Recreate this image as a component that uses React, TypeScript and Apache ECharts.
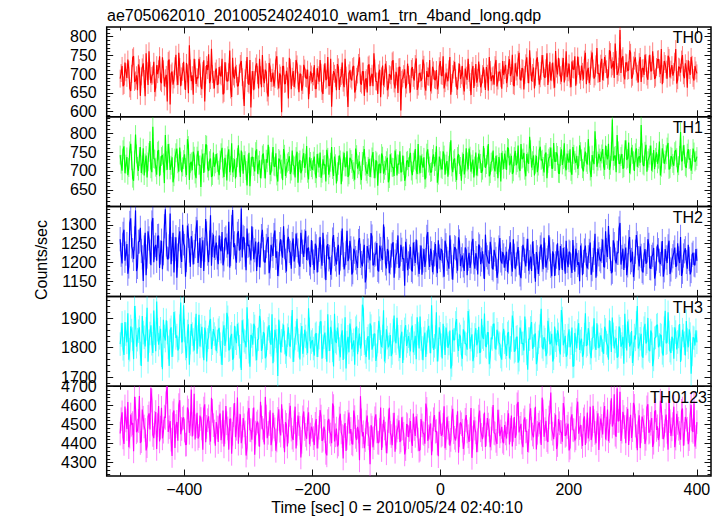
import React, { useEffect, useRef } from "react";
import * as echarts from "echarts";

const TITLE = "ae705062010_20100524024010_wam1_trn_4band_long.qdp";
const X_NAME = "Time [sec] 0 = 2010/05/24 02:40:10";
const Y_NAME = "Counts/sec";
// bins: "_A" arrays start at T_START, "_B" arrays start half a step later
const T_START = -500;
const T_STEP = 3;
const X_MIN = -521;
const X_MAX = 422;
const X_MAJOR = [-400, -200, 0, 200, 400];
const X_MINOR = [-500, -300, -100, 100, 300];

const TH0_A = [
  688,722,671,705,739,662,701,748,683,657,716,694,729,641,708,761,676,699,652,724,
  713,680,745,667,698,735,619,707,686,752,671,719,694,733,658,702,777,681,645,716,
  692,741,668,709,627,724,753,684,700,662,
  715,673,698,741,650,707,682,763,639,694,720,668,702,735,657,689,746,672,611,708,
  684,729,662,697,751,676,705,640,718,690,667,737,683,702,598,721,675,694,744,660,
  708,686,726,652,699,671,715,688,633,707,
  679,724,661,697,738,655,702,684,746,669,613,708,690,727,658,695,677,741,664,702,
  688,719,651,693,730,676,707,642,689,723,668,701,756,681,647,712,694,670,728,657,
  700,685,737,662,694,718,603,689,713,672,
  698,651,719,683,742,667,703,689,725,656,694,738,672,710,684,659,721,697,748,676,
  691,713,645,700,733,668,705,687,722,654,696,741,679,709,663,727,690,702,674,718,
  658,701,746,681,697,724,667,705,689,735,
  711,676,724,695,752,668,707,738,687,716,659,729,700,764,681,718,693,745,672,709,
  727,690,756,702,683,731,664,715,744,697,720,678,761,705,688,734,712,669,747,699,
  723,686,757,708,676,739,715,694,770,702,
  728,684,746,713,696,759,721,690,738,705,818,742,697,731,709,764,688,723,745,701,
  732,679,716,752,694,726,708,761,687,719,740,700,673,735,712,749,691,724,706,767,
  684,718,739,697,729,664,711,746,690,722,702,
];
const TH0_B = [
  703,668,731,690,712,655,744,679,697,726,642,718,687,756,671,709,695,733,664,700,
  748,676,713,689,627,739,702,672,721,694,757,668,706,683,730,649,715,697,741,674,
  689,722,660,737,698,711,676,768,685,707,
  672,719,694,646,732,681,705,659,744,688,701,669,727,692,615,711,676,738,684,657,
  720,698,741,665,689,712,651,730,679,704,687,748,662,696,721,674,709,635,717,693,
  666,738,683,701,656,725,690,712,671,699,
  694,661,716,680,704,647,729,688,669,741,676,701,657,718,690,731,665,696,612,710,
  683,722,659,699,745,672,707,684,651,726,693,668,715,680,702,638,723,689,711,664,
  697,734,675,706,650,719,685,700,662,728,
  673,714,690,727,658,701,682,739,667,708,693,654,720,686,711,671,735,695,662,704,
  681,746,676,712,690,659,728,697,669,715,685,703,644,722,692,677,734,665,700,688,
  719,656,711,694,672,738,683,706,661,697,
  725,689,740,703,671,729,694,757,683,714,698,745,676,720,703,662,737,708,689,751,
  694,716,671,733,705,686,762,699,718,680,743,707,692,728,665,714,748,697,722,684,
  706,739,673,717,695,758,688,726,701,679,
  741,706,727,689,764,715,735,782,698,720,703,748,686,729,711,757,693,736,707,678,
  746,715,698,730,685,752,709,724,691,739,716,767,700,727,688,743,712,696,733,675,
  720,704,751,689,714,737,698,725,683,710,
];

const TH1_A = [
  742,701,765,718,689,753,727,674,796,712,738,695,760,721,683,749,706,817,731,690,
  755,714,742,668,727,771,703,736,685,748,719,762,697,730,709,784,676,724,751,692,
  739,715,658,746,722,768,700,733,688,711,
  745,702,729,761,684,718,740,697,773,709,680,735,721,754,693,727,662,748,711,736,
  699,757,716,681,742,706,731,769,690,724,713,747,672,729,705,758,687,721,739,700,
  716,683,751,722,694,734,708,766,678,725,
  703,738,681,721,749,694,715,672,736,708,763,687,719,698,741,665,726,711,752,690,
  730,704,677,743,716,689,725,758,699,712,684,737,706,728,661,719,746,693,714,735,
  680,722,709,754,688,717,697,741,674,726,
  711,748,689,729,703,771,694,720,736,682,757,713,698,744,725,669,738,707,752,690,
  726,715,781,697,733,676,745,712,724,691,760,704,739,718,683,749,711,731,695,766,
  708,742,686,723,754,699,717,737,672,728,
  746,703,759,721,692,738,715,767,700,731,748,686,724,790,709,741,718,697,755,728,
  712,743,681,734,762,707,725,749,694,738,716,773,702,729,757,690,744,721,706,768,
  732,699,751,717,740,684,727,805,711,745,
  726,758,703,741,772,715,836,738,697,753,720,745,709,781,733,694,762,727,748,711,
  739,821,716,752,698,734,767,722,705,749,731,688,760,719,743,774,707,736,714,755,
  696,741,726,768,712,747,730,701,759,724,738,
];
const TH1_B = [
  718,756,694,737,709,772,681,729,745,700,763,716,688,741,724,779,697,733,710,752,
  686,738,721,795,703,747,715,670,734,759,698,726,711,744,689,767,720,702,739,681,
  753,716,732,695,770,708,727,684,749,719,
  722,689,748,706,735,675,757,714,696,731,709,768,684,726,742,701,719,660,737,712,
  751,693,728,705,746,680,722,739,698,763,711,687,733,718,676,744,707,725,692,754,
  713,738,669,729,702,747,720,694,736,709,
  726,693,745,709,682,731,717,756,690,723,704,738,667,715,729,697,748,711,684,735,
  720,698,759,706,725,676,741,713,692,732,708,750,681,724,716,694,739,702,727,670,
  744,710,687,733,719,752,698,715,685,728,
  735,700,723,758,692,716,741,709,678,747,721,696,733,712,765,689,727,704,742,718,
  685,751,711,729,696,738,717,674,745,707,724,759,698,730,713,688,746,720,702,735,
  717,771,693,726,709,740,681,722,748,705,
  729,762,715,740,698,753,722,708,771,734,702,745,719,756,727,688,740,713,764,731,
  696,749,720,738,707,774,725,741,693,757,730,711,746,722,699,763,728,740,714,751,
  706,737,723,784,700,742,718,759,726,734,
  745,712,767,731,703,752,727,741,795,719,738,706,756,729,775,716,744,700,760,733,
  722,748,713,769,727,742,701,755,736,719,778,710,746,729,763,704,739,720,751,735,
  714,803,727,744,708,758,733,717,750,728,
];

const TH2_A = [
  1262,1198,1287,1224,1171,1305,1243,1210,1338,1189,1256,1231,1152,1279,1216,1264,1193,1318,1240,1205,
  1271,1227,1183,1296,1248,1209,1330,1236,1174,1267,1219,1283,1202,1251,1163,1298,1232,1270,1195,1244,
  1312,1221,1186,1259,1234,1277,1201,1325,1247,1213,
  1253,1196,1238,1281,1209,1266,1222,1187,1294,1241,1214,1276,1232,1343,1268,1221,1290,1247,1206,1262,
  1233,1178,1255,1219,1287,1201,1244,1268,1190,1236,1273,1213,1165,1249,1227,1296,1205,1258,1231,1184,
  1264,1218,1247,1198,1279,1229,1256,1207,1240,1188,
  1226,1181,1243,1207,1268,1192,1231,1154,1249,1215,1187,1273,1209,1236,1168,1252,1221,1196,1284,1213,
  1238,1175,1229,1201,1257,1218,1190,1247,1163,1232,1206,1269,1195,1224,1181,1245,1213,1301,1198,1236,
  1172,1219,1254,1203,1228,1186,1247,1210,1139,1231,
  1198,1242,1177,1223,1261,1195,1214,1168,1236,1207,1281,1189,1225,1201,1249,1172,1216,1236,1193,1258,
  1210,1184,1229,1155,1241,1204,1267,1191,1219,1178,1233,1210,1186,1252,1201,1225,1169,1243,1208,1190,
  1274,1214,1197,1236,1182,1222,1160,1240,1206,1228,
  1187,1229,1203,1254,1176,1218,1195,1241,1169,1212,1236,1190,1263,1201,1178,1225,1150,1214,1197,1248,
  1183,1221,1206,1272,1192,1230,1165,1216,1199,1244,1181,1209,1258,1188,1226,1173,1213,1237,1194,1151,
  1219,1202,1245,1185,1231,1168,1207,1276,1196,1222,
  1204,1261,1188,1233,1297,1210,1176,1249,1198,1226,1305,1215,1181,1240,1193,1268,1207,1162,1229,1251,
  1190,1218,1174,1236,1202,1247,1185,1221,1158,1211,1233,1196,1257,1180,1214,1243,1170,1206,1227,1189,
  1251,1199,1165,1219,1238,1184,1210,1178,1226,1193,1205,
];
const TH2_B = [
  1221,1276,1205,1249,1190,1317,1233,1264,1178,1255,1292,1214,1240,1167,1283,1229,1306,1201,1247,1270,
  1186,1258,1225,1341,1211,1243,1196,1279,1236,1160,1262,1218,1300,1244,1207,1271,1189,1252,1228,1289,
  1199,1265,1236,1178,1315,1224,1253,1192,1274,1239,
  1214,1272,1230,1193,1262,1245,1308,1223,1339,1251,1200,1283,1236,1214,1265,1180,1244,1227,1296,1209,
  1256,1221,1188,1270,1235,1201,1259,1172,1247,1218,1285,1230,1196,1262,1213,1241,1177,1268,1226,1249,
  1203,1277,1232,1189,1255,1215,1284,1237,1198,1260,
  1203,1250,1174,1234,1216,1279,1188,1242,1209,1168,1261,1223,1195,1247,1211,1290,1182,1226,1204,1258,
  1169,1237,1212,1186,1265,1199,1230,1148,1244,1215,1278,1193,1221,1252,1177,1236,1207,1263,1185,1229,
  1201,1248,1160,1219,1272,1192,1234,1211,1255,1180,
  1216,1181,1253,1199,1227,1170,1245,1206,1189,1268,1213,1237,1175,1222,1194,1259,1207,1231,1163,1246,
  1200,1272,1188,1218,1238,1179,1256,1209,1193,1240,1167,1226,1203,1263,1184,1212,1248,1196,1230,1157,
  1221,1201,1255,1186,1234,1210,1177,1265,1198,1219,
  1210,1175,1238,1196,1262,1183,1224,1200,1159,1247,1205,1231,1179,1216,1256,1191,1228,1170,1240,1208,
  1266,1187,1213,1235,1164,1222,1198,1251,1180,1217,1239,1171,1205,1229,1192,1260,1176,1220,1201,1245,
  1167,1232,1194,1214,1253,1183,1226,1160,1237,1209,
  1231,1190,1283,1215,1242,1172,1259,1208,1226,1290,1195,1237,1218,1167,1254,1201,1229,1184,1273,1212,
  1243,1178,1220,1197,1262,1186,1215,1239,1171,1248,1205,1224,1163,1236,1199,1258,1182,1217,1240,1193,
  1211,1268,1176,1230,1202,1247,1169,1221,1195,1236,
];

const TH3_A = [
  1812,1884,1775,1846,1917,1793,1858,1761,1902,1827,1869,1738,1851,1804,1935,1822,1876,1782,1849,1957,
  1810,1864,1727,1838,1893,1801,1859,1768,1921,1833,1790,1873,1818,1944,1797,1855,1742,1880,1826,1863,
  1779,1912,1841,1806,1868,1753,1835,1897,1815,1846,
  1788,1859,1812,1741,1876,1826,1903,1794,1847,1765,1832,1881,1803,1724,1856,1819,1937,1786,1843,1810,
  1872,1757,1829,1891,1801,1846,1772,1864,1818,1913,1792,1838,1704,1851,1823,1878,1785,1842,1809,1867,
  1751,1831,1898,1806,1844,1779,1861,1815,1934,1797,
  1826,1773,1849,1808,1887,1762,1835,1801,1913,1789,1852,1736,1821,1868,1795,1841,1758,1903,1817,1784,
  1857,1810,1742,1872,1826,1797,1946,1815,1768,1839,1882,1793,1846,1755,1821,1866,1802,1927,1787,1834,
  1811,1771,1858,1823,1901,1794,1837,1748,1862,1806,
  1839,1787,1875,1815,1761,1848,1906,1799,1831,1768,1857,1821,1944,1792,1836,1753,1869,1808,1881,1775,
  1843,1814,1729,1861,1826,1897,1789,1838,1762,1852,1811,1924,1796,1845,1771,1866,1820,1783,1898,1829,
  1806,1851,1744,1834,1879,1798,1861,1817,1770,1843,
  1818,1772,1853,1799,1909,1786,1834,1749,1868,1813,1790,1856,1725,1829,1887,1805,1848,1761,1838,1932,
  1794,1827,1783,1861,1816,1753,1872,1808,1845,1777,1899,1820,1769,1841,1801,1868,1738,1825,1856,1792,
  1830,1779,1917,1811,1847,1764,1835,1806,1883,1798,
  1842,1788,1871,1816,1759,1851,1902,1797,1833,1771,1864,1812,1745,1838,1889,1804,1856,1778,1828,1941,
  1809,1847,1766,1881,1821,1793,1858,1737,1832,1875,1801,1844,1782,1866,1815,1920,1790,1837,1762,1853,
  1819,1880,1796,1841,1773,1826,1862,1711,1835,1807,1818,
];
const TH3_B = [
  1843,1796,1887,1818,1759,1872,1829,1941,1803,1856,1780,1907,1835,1864,1752,1848,1813,1926,1788,1861,
  1833,1774,1895,1824,1851,1738,1869,1809,1884,1841,1797,1953,1822,1858,1765,1879,1817,1846,1790,1915,
  1836,1804,1871,1757,1852,1826,1889,1795,1863,1832,
  1821,1867,1783,1849,1806,1918,1791,1836,1759,1874,1815,1845,1772,1893,1824,1801,1858,1735,1839,1881,
  1796,1827,1908,1789,1853,1764,1832,1876,1810,1747,1861,1823,1895,1784,1842,1817,1771,1869,1803,1928,
  1792,1850,1826,1760,1873,1807,1838,1781,1862,1819,
  1797,1845,1768,1834,1889,1805,1851,1752,1828,1871,1791,1915,1816,1843,1767,1859,1802,1729,1837,1882,
  1794,1825,1866,1778,1848,1812,1932,1786,1830,1759,1873,1806,1847,1774,1891,1819,1838,1753,1862,1801,
  1843,1782,1909,1815,1837,1765,1854,1798,1876,1821,
  1812,1866,1784,1840,1903,1797,1829,1757,1851,1818,1874,1781,1838,1806,1920,1793,1847,1763,1833,1868,
  1799,1858,1741,1826,1884,1809,1845,1776,1862,1815,1793,1890,1827,1754,1843,1808,1871,1785,1836,1916,
  1802,1851,1769,1829,1881,1794,1847,1812,1759,1864,
  1801,1848,1763,1826,1884,1790,1837,1759,1853,1815,1906,1781,1829,1867,1796,1842,1744,1818,1874,1803,
  1835,1771,1891,1812,1847,1764,1825,1859,1789,1928,1808,1840,1777,1862,1815,1736,1850,1797,1883,1821,
  1769,1844,1806,1866,1783,1831,1900,1792,1838,1811,
  1826,1779,1860,1807,1893,1785,1845,1821,1766,1872,1803,1837,1915,1790,1856,1812,1748,1841,1884,1797,
  1830,1772,1866,1814,1901,1788,1849,1760,1835,1878,1809,1841,1773,1925,1818,1852,1782,1829,1869,1794,
  1838,1751,1861,1815,1890,1801,1846,1777,1832,1859,
];

const TH0123_A = [
  4452,4563,4398,4521,4617,4436,4498,4359,4582,4467,4649,4412,4535,4471,4386,4558,4690,4445,4509,4372,
  4596,4483,4427,4541,4668,4461,4518,4335,4573,4492,4415,4627,4476,4537,4394,4589,4456,4682,4503,4421,
  4561,4439,4528,4367,4605,4487,4542,4410,4571,4463,
  4512,4408,4557,4461,4385,4596,4479,4527,4346,4548,4433,4641,4494,4402,4533,4458,4378,4586,4469,4523,
  4341,4505,4447,4619,4482,4395,4541,4456,4574,4421,4488,4362,4529,4467,4606,4439,4512,4384,4550,4473,
  4418,4593,4451,4502,4327,4537,4476,4425,4563,4447,
  4471,4392,4528,4436,4575,4413,4489,4351,4517,4462,4402,4596,4443,4384,4531,4458,4322,4507,4429,4562,
  4476,4395,4538,4418,4463,4648,4437,4375,4512,4449,4291,4483,4428,4553,4405,4471,4366,4524,4452,4410,
  4587,4439,4498,4357,4468,4521,4416,4479,4343,4502,
  4433,4518,4387,4476,4542,4421,4368,4495,4450,4609,4414,4483,4339,4527,4462,4401,4566,4441,4497,4375,
  4538,4456,4419,4582,4430,4488,4352,4511,4467,4403,4549,4438,4476,4325,4521,4459,4417,4573,4445,4494,
  4382,4533,4468,4426,4601,4452,4397,4515,4463,4410,
  4497,4426,4558,4471,4384,4539,4449,4617,4482,4405,4521,4463,4356,4547,4478,4433,4592,4456,4511,4392,
  4568,4475,4418,4536,4667,4452,4497,4371,4528,4461,4409,4583,4446,4504,4378,4553,4469,4427,4619,4481,
  4434,4526,4392,4562,4473,4418,4597,4455,4509,4366,
  4531,4447,4596,4478,4412,4563,4489,4658,4435,4517,4671,4462,4538,4401,4582,4476,4429,4613,4494,4365,
  4548,4463,4521,4397,4589,4457,4503,4382,4566,4471,4418,4624,4486,4441,4552,4368,4517,4474,4593,4426,
  4508,4455,4571,4389,4539,4477,4423,4602,4461,4384,4512,
];
const TH0123_B = [
  4527,4432,4594,4476,4381,4552,4507,4645,4459,4518,4403,4578,4489,4364,4540,4473,4625,4428,4565,4496,
  4411,4587,4462,4534,4699,4485,4420,4559,4377,4513,4601,4448,4530,4468,4395,4572,4503,4437,4661,4491,
  4426,4546,4479,4583,4407,4522,4455,4639,4496,4388,
  4484,4541,4417,4573,4460,4506,4368,4529,4451,4612,4477,4399,4553,4436,4495,4337,4562,4471,4420,4588,
  4457,4515,4383,4537,4469,4644,4428,4502,4391,4561,4474,4416,4579,4442,4520,4355,4498,4463,4597,4431,
  4511,4374,4546,4482,4409,4568,4445,4527,4396,4488,
  4428,4503,4374,4482,4541,4420,4466,4338,4529,4447,4610,4411,4478,4395,4556,4439,4492,4361,4514,4452,
  4401,4573,4435,4487,4312,4521,4459,4418,4546,4427,4496,4380,4532,4463,4403,4589,4441,4479,4349,4518,
  4456,4391,4561,4432,4485,4408,4537,4450,4371,4496,
  4471,4412,4557,4440,4493,4362,4528,4456,4399,4581,4437,4505,4421,4549,4465,4334,4512,4447,4595,4428,
  4483,4389,4537,4459,4416,4569,4444,4501,4372,4524,4463,4408,4586,4431,4478,4355,4541,4469,4423,4562,
  4447,4499,4381,4530,4456,4414,4577,4438,4487,4402,
  4453,4512,4395,4546,4471,4429,4605,4458,4503,4381,4537,4466,4414,4584,4447,4525,4369,4498,4462,4640,
  4435,4519,4408,4563,4477,4423,4551,4392,4506,4459,4612,4440,4487,4364,4531,4472,4416,4576,4451,4498,
  4387,4542,4463,4427,4593,4445,4517,4401,4558,4480,
  4492,4554,4421,4578,4465,4637,4508,4446,4689,4519,4413,4566,4487,4529,4392,4551,4470,4597,4438,4512,
  4376,4541,4486,4425,4606,4462,4533,4404,4574,4490,4447,4587,4423,4518,4461,4632,4439,4502,4381,4556,
  4477,4420,4583,4451,4525,4397,4548,4469,4611,4434,
];

// typical 1-sigma error bar half-length (counts/sec)
const ERR_TH0 = 24;
const ERR_TH1 = 25;
const ERR_TH2 = 32;
const ERR_TH3 = 40;
const ERR_TH0123 = 62;

const Y_TICKS_TH0 = [600, 650, 700, 750, 800];
const Y_TICKS_TH1 = [650, 700, 750, 800];
const Y_TICKS_TH2 = [1150, 1200, 1250, 1300];
const Y_TICKS_TH3 = [1700, 1800, 1900];
const Y_TICKS_TH0123 = [4300, 4400, 4500, 4600, 4700];

const PANELS = [
  { name: "TH0", a: TH0_A, b: TH0_B, err: ERR_TH0, ticks: Y_TICKS_TH0, min: 586, max: 826, minor: 10, color: "#ff0000", light: "rgba(255,0,0,0.5)", lx: 703 },
  { name: "TH1", a: TH1_A, b: TH1_B, err: ERR_TH1, ticks: Y_TICKS_TH1, min: 606, max: 843, minor: 10, color: "#00ff00", light: "rgba(0,255,0,0.5)", lx: 703 },
  { name: "TH2", a: TH2_A, b: TH2_B, err: ERR_TH2, ticks: Y_TICKS_TH2, min: 1111, max: 1348, minor: 10, color: "#0000ff", light: "rgba(0,0,255,0.5)", lx: 703 },
  { name: "TH3", a: TH3_A, b: TH3_B, err: ERR_TH3, ticks: Y_TICKS_TH3, min: 1669, max: 1974, minor: 20, color: "#00ffff", light: "rgba(0,255,255,0.5)", lx: 703 },
  { name: "TH0123", a: TH0123_A, b: TH0123_B, err: ERR_TH0123, ticks: Y_TICKS_TH0123, min: 4230, max: 4700, minor: 20, color: "#ff00ff", light: "rgba(255,0,255,0.5)", lx: 707 },
];

const FONT = "'Liberation Sans', Arial, Helvetica, sans-serif";
const W = 722;
const H = 516;
const GRID_LEFT = 106.7;
const GRID_RIGHT_X = 711;
const GRID_TOP = 27;
const PANEL_H = 89.8;

function fmtNum(v: number) {
  return v < 0 ? "\u2212" + Math.abs(v) : String(v);
}

function minorList(min: number, max: number, step: number) {
  const out: number[] = [];
  for (let v = Math.ceil(min / step) * step; v <= max; v += step) out.push(v);
  return out;
}

function mergeBins(a: number[], b: number[]) {
  const pts: number[][] = [];
  for (let k = 0; k < a.length; k++) {
    pts.push([T_START + k * T_STEP, a[k]]);
    if (k < b.length) pts.push([T_START + k * T_STEP + T_STEP / 2, b[k]]);
  }
  return pts;
}

function buildOption() {
  const grid: any[] = [];
  const xAxis: any[] = [];
  const yAxis: any[] = [];
  const series: any[] = [];
  const graphic: any[] = [];

  PANELS.forEach((p, i) => {
    const top = GRID_TOP + i * PANEL_H;
    grid.push({
      left: GRID_LEFT,
      width: GRID_RIGHT_X - GRID_LEFT,
      top,
      height: PANEL_H,
      show: true,
      borderColor: "#000",
      borderWidth: 1.5,
      backgroundColor: "transparent",
    });
    const isLast = i === PANELS.length - 1;
    const xBase = xAxis.length;
    const mkX = (position: string, values: number[], len: number, labels: boolean) => ({
      gridIndex: i,
      type: "value",
      min: X_MIN,
      max: X_MAX,
      position,
      axisLine: { show: false, onZero: false },
      splitLine: { show: false },
      axisTick: { show: true, inside: true, length: len, customValues: values, lineStyle: { color: "#111", width: 1 } },
      axisLabel: {
        show: labels,
        customValues: values,
        formatter: (v: number) => fmtNum(v),
        fontSize: 16,
        fontFamily: FONT,
        color: "#000",
        margin: 5,
      },
    });
    xAxis.push(mkX("bottom", X_MAJOR, 6.5, isLast));
    xAxis.push(mkX("top", X_MAJOR, 6.5, false));
    xAxis.push(mkX("bottom", X_MINOR, 3.5, false));
    xAxis.push(mkX("top", X_MINOR, 3.5, false));

    const yBase = yAxis.length;
    const minors = minorList(p.min, p.max, p.minor).filter((v) => p.ticks.indexOf(v) < 0);
    const mkY = (position: string, values: number[], len: number, labels: boolean) => ({
      gridIndex: i,
      type: "value",
      min: p.min,
      max: p.max,
      position,
      axisLine: { show: false, onZero: false },
      splitLine: { show: false },
      axisTick: { show: true, inside: true, length: len, customValues: values, lineStyle: { color: "#111", width: 1 } },
      axisLabel: {
        show: labels,
        customValues: values,
        formatter: (v: number) => String(v),
        fontSize: 16,
        fontFamily: FONT,
        color: "#000",
        margin: 10,
      },
    });
    yAxis.push(mkY("left", p.ticks, 6.5, true));
    yAxis.push(mkY("left", minors, 3.5, false));
    yAxis.push(mkY("right", p.ticks, 6.5, false));
    yAxis.push(mkY("right", minors, 3.5, false));

    const pts = mergeBins(p.a, p.b);
    const err = p.err;
    const light = p.light;
    series.push({
      type: "custom",
      xAxisIndex: xBase,
      yAxisIndex: yBase,
      clip: true,
      data: pts,
      renderItem: (params: any, api: any) => {
        const x = api.value(0);
        const y = api.value(1);
        const a = api.coord([x, y - err]);
        const b = api.coord([x, y + err]);
        return {
          type: "line",
          shape: { x1: a[0], y1: a[1], x2: b[0], y2: b[1] },
          style: { stroke: light, lineWidth: 1 },
        };
      },
      silent: true,
      z: 1,
    });
    series.push({
      type: "line",
      xAxisIndex: xBase,
      yAxisIndex: yBase,
      data: pts,
      showSymbol: false,
      symbol: "none",
      clip: true,
      lineStyle: { color: p.color, width: 1.15 },
      itemStyle: { color: p.color },
      silent: true,
      z: 2,
    });

    graphic.push({
      type: "text",
      x: p.lx,
      y: top + 10.8,
      z: 10,
      style: {
        text: p.name,
        fontSize: 16,
        fontFamily: FONT,
        fill: "#000",
        align: "right",
        verticalAlign: "middle",
      },
    });
  });

  graphic.push({
    type: "text",
    x: 107,
    y: 15,
    style: { text: TITLE, fontSize: 16, fontFamily: FONT, fill: "#000", align: "left", verticalAlign: "middle" },
  });
  graphic.push({
    type: "text",
    x: 397,
    y: 507,
    style: { text: X_NAME, fontSize: 16, fontFamily: FONT, fill: "#000", align: "center", verticalAlign: "middle" },
  });
  graphic.push({
    type: "text",
    x: 41,
    y: 260,
    rotation: Math.PI / 2,
    style: { text: Y_NAME, fontSize: 16, fontFamily: FONT, fill: "#000", align: "center", verticalAlign: "middle" },
  });

  return {
    animation: false,
    backgroundColor: "#fff",
    grid,
    xAxis,
    yAxis,
    series,
    graphic,
  };
}

export default function App() {
  const ref = useRef<HTMLDivElement>(null);
  useEffect(() => {
    if (!ref.current) return;
    const chart = echarts.init(ref.current, undefined, { renderer: "svg", width: W, height: H });
    chart.setOption(buildOption() as any);
    return () => chart.dispose();
  }, []);
  return (
    <div
      ref={ref}
      style={{ position: "fixed", left: 0, top: 0, width: W, height: H, background: "#fff" }}
    />
  );
}
